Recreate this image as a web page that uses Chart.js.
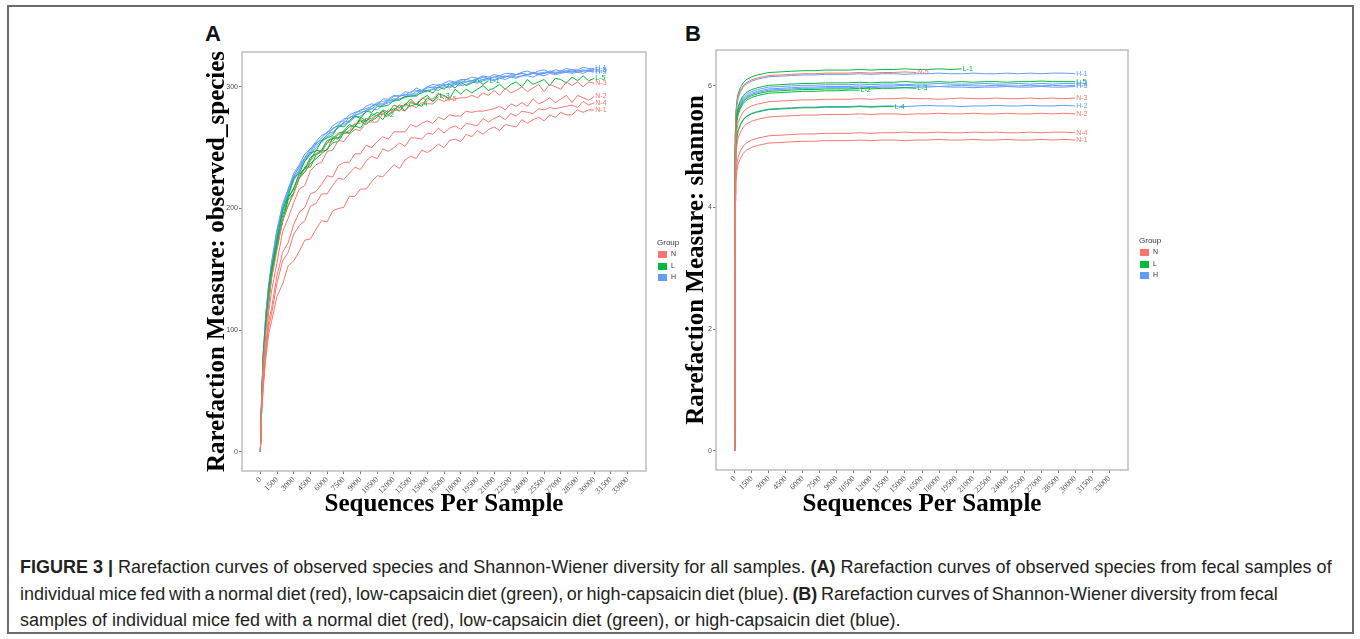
<!DOCTYPE html>
<html>
<head>
<meta charset="utf-8">
<script src="https://cdn.jsdelivr.net/npm/chart.js@4.4.1/dist/chart.umd.min.js"></script>
<style>
  html, body { margin: 0; padding: 0; background: #fff; }
  body { width: 1360px; height: 639px; position: relative; overflow: hidden; font-family: "Liberation Sans", Arial, sans-serif; }
  .frame { position: absolute; left: 7px; top: 5px; width: 1343px; height: 625px; border: 2px solid #6b6b6b; }
  canvas { position: absolute; }
  .letter { position: absolute; font: bold 22px "Liberation Sans", Arial, sans-serif; color: #111; }
  .legend { position: absolute; font: 8px "Liberation Sans", Arial, sans-serif; color: #333; width: 40px; height: 50px; }
  .legend .key { position: absolute; width: 9px; height: 7px; }
  .legend .lab { position: absolute; font-size: 7px; }
  .caption { position: absolute; left: 20px; top: 554px; font-size: 18px; line-height: 26.5px; color: #231f20; white-space: nowrap; }
  .tight { word-spacing: -1.4px; }
</style>
</head>
<body>
<div class="frame"></div>
<div class="letter" style="left:205px; top:21px;">A</div>
<div class="letter" style="left:685px; top:21px;">B</div>
<canvas id="chartA" width="465" height="490" style="left:195px; top:40px;"></canvas>
<canvas id="chartB" width="465" height="492" style="left:675px; top:38px;"></canvas>
<div class="legend" id="legendA" style="left:657px; top:238px;"></div>
<div class="legend" id="legendB" style="left:1139px; top:236px;"></div>
<div class="caption">
<b>FIGURE 3 |</b> Rarefaction curves of observed species and Shannon-Wiener diversity for all samples. <b>(A)</b> Rarefaction curves of observed species from fecal samples of<br>
<span class="tight">individual mice fed with a normal diet (red), low-capsaicin diet (green), or high-capsaicin diet (blue). <b>(B)</b> Rarefaction curves of Shannon-Wiener diversity from fecal</span><br>
samples of individual mice fed with a normal diet (red), low-capsaicin diet (green), or high-capsaicin diet (blue).
</div>
<script>
// sequences per sample (x) and tick labels
const seqA = [0, 100, 250, 500, 750, 1000, 1500, 2000, 2500, 3000, 3500, 4000, 4500, 5000, 5500, 6000, 6500, 7000, 7500, 8000,
  8500, 9000, 9500, 10000, 10500, 11000, 11500, 12000, 12500, 13000, 13500, 14000, 14500, 15000, 15500, 16000, 16500, 17000, 17500, 18000,
  18500, 19000, 19500, 20000, 20500, 21000, 21500, 22000, 22500, 23000, 23500, 24000, 24500, 25000, 25500, 26000, 26500, 27000, 27500, 28000,
  28500, 29000, 29500, 30000];
const seqB = [0, 50, 100, 200, 300, 500, 750, 1000, 1500, 2000, 2500, 3000, 4000, 5000, 6000, 7000, 8000, 9000, 10000, 11000,
  12000, 13000, 14000, 15000, 16000, 17000, 18000, 19000, 20000, 21000, 22000, 23000, 24000, 25000, 26000, 27000, 28000, 29000, 30000];
const xTicks = [0, 1500, 3000, 4500, 6000, 7500, 9000, 10500, 12000, 13500, 15000, 16500, 18000, 19500, 21000, 22500, 24000, 25500, 27000, 28500, 30000, 31500, 33000];
const yTicksA = [0, 100, 200, 300];
const yTicksB = [0, 2, 4, 6];

const groups = ['N', 'L', 'H'];
const groupColors = { N: '#F8766D', L: '#00BA38', H: '#619CFF' };

// A: observed_species
const obsN1 = [0,30,53,78,97,107,128,138,153,157, 165,174,175,183,190,189,198,200,201,210, 210,216,216,222,227,226,231,236,233,240, 243,241,248,246,249,253,250,256,257,255, 261,259,264,261,265,267,264,269,268,267, 273,270,273,275,272,277,275,279,277,277, 281,279,281,281];
const obsN2 = [0,30,53,85,107,118,145,164,172,187, 197,201,212,214,220,227,226,235,238,238, 245,245,252,250,255,259,257,263,263,263, 269,267,270,272,270,275,273,277,276,276, 280,279,280,280,281,282,284,281,286,284, 287,284,290,286,288,291,287,290,293,287, 293,291,289,292];
const obsN3 = [0,32,64,89,115,132,156,181,192,205, 216,219,231,236,238,247,248,256,255,261, 265,264,271,271,271,278,276,280,282,280, 285,283,287,286,286,290,288,290,290,291, 291,293,291,295,293,297,293,299,295,297, 300,296,299,302,296,302,300,298,304,301, 304,300,304,303];
const obsN4 = [0,30,53,82,103,113,139,157,164,179, 186,190,202,204,212,212,219,225,224,229, 234,232,239,243,241,249,247,250,254,251, 258,258,257,262,261,266,262,266,268,265, 270,269,268,274,271,274,276,273,278,276, 280,279,278,282,281,283,282,283,284,285, 283,288,285,287];
const obsN5 = [0,35,73,99,124,142,166,190,203,212, 227,230,239,245,246,254,255,261,262,264, 270,270,274,274,277,278,281,280,285,284, 288,286,291,289,290,295,290];
const obsL1 = [0,39,78,107,134,150,175,199,210,225, 229,239,246,247,256,258,260,268,267,272, 276,274,280,279,284,284,285,289,289,292, 292,293,295,297,295,300,298,302,299,304, 301,303,306,302,305];
const obsL2 = [0,36,73,107,124,146,172,189,209,217, 228,232,240,248,247,254,259,258,264,269, 267,275,272,276,279,277];
const obsL3 = [0,35,71,103,122,143,168,190,202,213, 225,230,237,241,245,249,254,255,262,262, 268,266,274,272,275,280,277,281,285,280, 287,286,284,291,288,292];
const obsL4 = [0,36,70,105,123,145,169,190,207,213, 225,234,234,244,247,248,258,257,263,262, 268,272,269,273,277,273,280,282,280,286, 284,286];
const obsL5 = [0,37,76,106,127,149,173,194,209,216, 229,233,242,245,248,256,257,262,263,267, 269,273,271,278,276,281,279,285,283,285, 290,285,290,293,288,294,293,290,298,294, 298,295,298,301,297,299,302,298,302,304, 300,306,302,304,306,301,307,306,303,308, 305,309,305,307];
const obsH1 = [0,42,81,115,138,156,183,204,216,229, 236,245,249,255,260,262,268,271,272,277, 279,280,284,286,285,290,290,293,292,296, 295,299,297,300,302,301,303,305,304,306, 306,308,307,309,308,310,309,311,311,310, 312,313,311,313,314,312,314,313,315,314, 314,316,315,315];
const obsH2 = [0,38,75,110,132,151,177,198,211,223, 231,239,244,250,254,259,262,267,269,271, 275,276,279,282,281,285,287,288,290,291, 293,292,296,296,298,297,300,299,302,301, 302,304,303,305,306,305,307,306,308,307, 309,309,308,310,309,311,310,311,312,311, 312,311,313,312];
const obsH3 = [0,41,79,114,136,154,182,200,216,226, 235,242,249,253,258,263,265,269,274,274, 278,281,282,284,287,288,289,292,293,293, 296,297,297,300,299,302,301,303,304,303, 306,305,306,308,307,308,309,308,310,310, 311,310,312,311,311,313,312,312,313,314, 313,313,314,314];
const obsH4 = [0,39,77,110,134,153,180,198,213,225, 232,241,245,252,255,261,263,266,271,272, 277,278,281,282,285,285,288,290,290,292, 294,294,297,297,298,300,301,300,303,302, 304,305,304,306,307,306,307,308,309,308, 309,310,311,310,311,312,311,312,312,313, 312,313,313,313];
const obsH5 = [0,40,80,113,137,152,181,201,214,227, 234,241,247,254,256,260,266,268,270,275, 276,279,280,284,286,286,289,289,292,294, 293,296,296,299,300,299,302,302,303,305, 304,305,307,306,307,308,308,309,308,310, 311,310,311,311,312,312,311,313,313,312, 313,314,313,314];

// B: shannon
const shanN1 = [0,4.11,4.41,4.61,4.71,4.81,4.89,4.94,4.99,5.02, 5.04,5.06,5.07,5.08,5.09,5.09,5.10,5.10,5.10,5.11, 5.10,5.11,5.11,5.10,5.11,5.11,5.12,5.11,5.11,5.12, 5.11,5.11,5.12,5.11,5.11,5.12,5.11,5.12,5.11];
const shanN2 = [0,4.54,4.84,5.04,5.14,5.24,5.32,5.37,5.42,5.45, 5.47,5.49,5.50,5.51,5.52,5.52,5.53,5.53,5.53,5.54, 5.53,5.54,5.54,5.53,5.54,5.54,5.55,5.54,5.54,5.55, 5.54,5.54,5.55,5.54,5.54,5.55,5.54,5.55,5.54];
const shanN3 = [0,4.79,5.09,5.29,5.39,5.49,5.57,5.62,5.67,5.70, 5.72,5.74,5.75,5.76,5.77,5.77,5.78,5.78,5.78,5.79, 5.78,5.79,5.79,5.80,5.79,5.79,5.78,5.79,5.80,5.79, 5.79,5.80,5.79,5.79,5.80,5.79,5.80,5.79,5.80];
const shanN4 = [0,4.23,4.53,4.73,4.83,4.93,5.01,5.06,5.11,5.14, 5.16,5.18,5.19,5.20,5.21,5.21,5.22,5.22,5.22,5.23, 5.22,5.23,5.23,5.24,5.23,5.23,5.24,5.23,5.23,5.24, 5.23,5.24,5.23,5.23,5.24,5.23,5.24,5.24,5.23];
const shanN5 = [0,5.22,5.52,5.72,5.82,5.92,6.00,6.05,6.10,6.13, 6.15,6.17,6.18,6.19,6.20,6.20,6.21,6.21,6.21,6.22, 6.21,6.22,6.22,6.23,6.22];
const shanL1 = [0,5.27,5.57,5.77,5.87,5.97,6.05,6.10,6.15,6.18, 6.20,6.22,6.23,6.24,6.25,6.25,6.26,6.26,6.26,6.27, 6.26,6.27,6.27,6.28,6.27,6.27,6.28,6.27,6.28];
const shanL2 = [0,4.93,5.23,5.43,5.53,5.63,5.71,5.76,5.81,5.84, 5.86,5.88,5.89,5.90,5.91,5.91,5.92,5.92,5.93,5.93];
const shanL3 = [0,4.96,5.26,5.46,5.56,5.66,5.74,5.79,5.84,5.87, 5.89,5.91,5.92,5.93,5.94,5.94,5.95,5.95,5.95,5.96, 5.95,5.96,5.96,5.97,5.96];
const shanL4 = [0,4.66,4.96,5.16,5.26,5.36,5.44,5.49,5.54,5.57, 5.59,5.61,5.62,5.63,5.64,5.64,5.65,5.65,5.65,5.66, 5.65,5.66,5.66];
const shanL5 = [0,5.06,5.36,5.56,5.66,5.76,5.84,5.89,5.94,5.97, 5.99,6.01,6.02,6.03,6.04,6.04,6.05,6.05,6.05,6.06, 6.05,6.06,6.06,6.07,6.06,6.06,6.07,6.06,6.07,6.06, 6.07,6.07,6.06,6.07,6.07,6.08,6.07,6.07,6.07];
const shanH1 = [0,5.20,5.50,5.70,5.80,5.90,5.98,6.03,6.08,6.11, 6.13,6.15,6.16,6.17,6.18,6.18,6.19,6.19,6.19,6.20, 6.19,6.20,6.20,6.19,6.20,6.20,6.21,6.20,6.20,6.21, 6.20,6.20,6.21,6.20,6.21,6.20,6.21,6.21,6.20];
const shanH2 = [0,4.67,4.97,5.17,5.27,5.37,5.45,5.50,5.55,5.58, 5.60,5.62,5.63,5.64,5.65,5.65,5.66,5.66,5.66,5.67, 5.66,5.67,5.67,5.66,5.67,5.68,5.67,5.67,5.66,5.67, 5.67,5.68,5.67,5.67,5.68,5.67,5.67,5.68,5.67];
const shanH3 = [0,5.03,5.33,5.53,5.63,5.73,5.81,5.86,5.91,5.94, 5.96,5.98,5.99,6.00,6.01,6.01,6.02,6.02,6.02,6.03, 6.02,6.03,6.03,6.02,6.03,6.03,6.04,6.03,6.03,6.03, 6.04,6.03,6.03,6.04,6.03,6.04,6.03,6.04,6.04];
const shanH4 = [0,5.00,5.30,5.50,5.60,5.70,5.78,5.83,5.88,5.91, 5.93,5.95,5.96,5.97,5.98,5.98,5.99,5.99,5.99,6.00, 5.99,6.00,6.00,6.01,6.00,6.00,5.99,6.00,6.01,6.00, 6.00,6.01,6.00,6.00,6.01,6.00,6.01,6.00,6.01];
const shanH5 = [0,4.98,5.28,5.48,5.58,5.68,5.76,5.81,5.86,5.89, 5.91,5.93,5.94,5.95,5.96,5.96,5.97,5.97,5.97,5.98, 5.97,5.98,5.98,5.97,5.98,5.98,5.99,5.98,5.98,5.97, 5.98,5.98,5.99,5.98,5.98,5.99,5.98,5.98,5.99];

const seriesA = [
  ['N-1', obsN1], ['N-2', obsN2], ['N-3', obsN3], ['N-4', obsN4], ['N-5', obsN5],
  ['L-1', obsL1], ['L-2', obsL2], ['L-3', obsL3], ['L-4', obsL4], ['L-5', obsL5],
  ['H-1', obsH1], ['H-2', obsH2], ['H-3', obsH3], ['H-4', obsH4], ['H-5', obsH5]
];
const seriesB = [
  ['N-1', shanN1], ['N-2', shanN2], ['N-3', shanN3], ['N-4', shanN4], ['N-5', shanN5],
  ['L-1', shanL1], ['L-2', shanL2], ['L-3', shanL3], ['L-4', shanL4], ['L-5', shanL5],
  ['H-1', shanH1], ['H-2', shanH2], ['H-3', shanH3], ['H-4', shanH4], ['H-5', shanH5]
];

function makeSets(xs, list) {
  return list.map(([name, ys]) => ({
    label: name,
    data: ys.map((v, i) => ({ x: xs[i], y: v })),
    borderColor: groupColors[name[0]],
    borderWidth: 1,
    pointRadius: 0,
    tension: 0,
    fill: false
  }));
}

// panel border + labels at the end of each curve
const panelExtras = {
  id: 'panelExtras',
  afterDatasetsDraw(chart) {
    const { ctx, chartArea: a } = chart;
    ctx.save();
    ctx.strokeStyle = '#bdbdbd';
    ctx.lineWidth = 1.5;
    ctx.strokeRect(a.left, a.top, a.right - a.left, a.bottom - a.top);
    ctx.font = '7px "Liberation Sans", Arial, sans-serif';
    ctx.textBaseline = 'middle';
    chart.data.datasets.forEach((ds, i) => {
      const pts = chart.getDatasetMeta(i).data;
      const last = pts[pts.length - 1];
      ctx.fillStyle = ds.borderColor;
      ctx.fillText(ds.label, last.x + 1, last.y);
    });
    ctx.restore();
  }
};

function buildOptions(cfg) {
  return {
    responsive: false,
    animation: false,
    events: [],
    layout: { autoPadding: false, padding: { top: 12, right: cfg.padRight, left: 0, bottom: 0 } },
    plugins: { legend: { display: false }, tooltip: { enabled: false } },
    scales: {
      x: {
        type: 'linear', min: -1650, max: 34650,
        afterBuildTicks: s => { s.ticks = xTicks.map(v => ({ value: v })); },
        afterFit: s => { s.height = cfg.xHeight; },
        ticks: {
          autoSkip: false, minRotation: 45, maxRotation: 45, padding: 1,
          font: { family: 'Liberation Serif', size: 8 }, color: '#4d4d4d',
          callback: v => String(v)
        },
        grid: { drawOnChartArea: false, drawTicks: true, tickLength: 3, color: '#777' },
        border: { display: false },
        title: {
          display: true, text: 'Sequences Per Sample', color: '#000',
          font: { family: 'Liberation Serif', size: 25, weight: 'bold' },
          padding: { top: 0, bottom: 10 }
        }
      },
      y: {
        type: 'linear', min: cfg.yMin, max: cfg.yMax,
        afterBuildTicks: s => { s.ticks = cfg.yTicks.map(v => ({ value: v })); },
        afterFit: s => { s.width = cfg.yWidth; },
        ticks: {
          padding: 1, font: { family: 'Liberation Sans', size: 7 }, color: '#4d4d4d',
          callback: v => String(v)
        },
        grid: { drawOnChartArea: false, drawTicks: true, tickLength: 3, color: '#777' },
        border: { display: false },
        title: {
          display: true, text: cfg.yTitle, color: '#000',
          font: { family: 'Liberation Serif', size: 25, weight: 'bold' },
          padding: { top: cfg.yTitlePad, bottom: 0 }
        }
      }
    }
  };
}

new Chart(document.getElementById('chartA'), {
  type: 'line',
  data: { datasets: makeSets(seqA, seriesA) },
  options: buildOptions({
    padRight: 14, xHeight: 59, yWidth: 47, yTitlePad: 8,
    yMin: -15.65, yMax: 328.6, yTicks: yTicksA,
    yTitle: 'Rarefaction Measure: observed_species'
  }),
  plugins: [panelExtras]
});

new Chart(document.getElementById('chartB'), {
  type: 'line',
  data: { datasets: makeSets(seqB, seriesB) },
  options: buildOptions({
    padRight: 12, xHeight: 60, yWidth: 41, yTitlePad: 6.5,
    yMin: -0.314, yMax: 6.59, yTicks: yTicksB,
    yTitle: 'Rarefaction Measure: shannon'
  }),
  plugins: [panelExtras]
});

// legends
function buildLegend(id) {
  const box = document.getElementById(id);
  let html = '<div style="position:absolute;left:0;top:0;">Group</div>';
  groups.forEach((g, i) => {
    const top = 13 + i * 11.5;
    html += '<div class="key" style="left:1px;top:' + top + 'px;background:' + groupColors[g] + ';"></div>';
    html += '<div class="lab" style="left:14px;top:' + (top - 1) + 'px;">' + g + '</div>';
  });
  box.innerHTML = html;
}
buildLegend('legendA');
buildLegend('legendB');
</script>
</body>
</html>
